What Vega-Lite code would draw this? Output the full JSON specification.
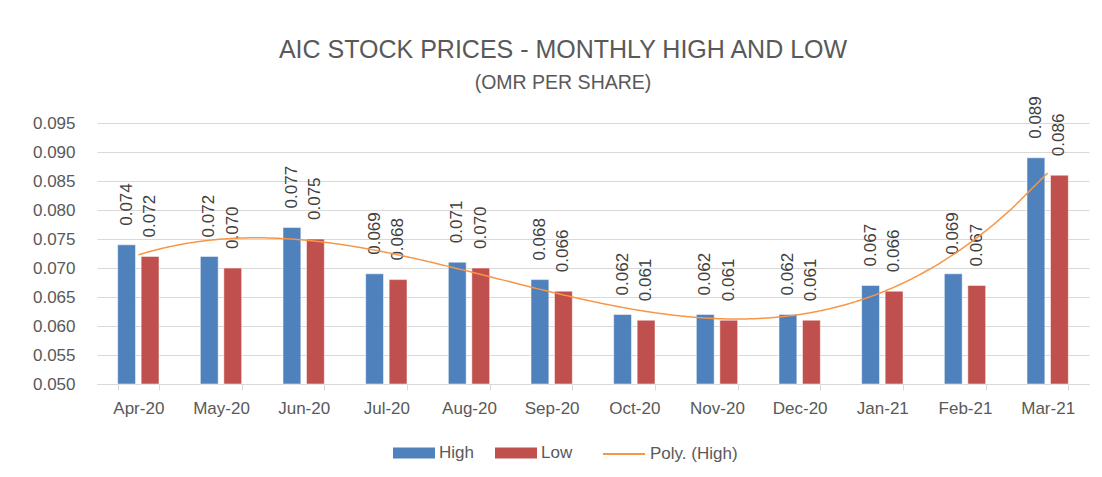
{
  "$schema": "https://vega.github.io/schema/vega-lite/v6.json",
  "autosize": "none",
  "width": 992,
  "height": 261,
  "padding": {"left": 97, "top": 123, "right": 13, "bottom": 93},
  "background": "#ffffff",
  "config": {
    "font": "Liberation Sans",
    "view": {"stroke": null},
    "axisY": {
      "title": null, "values": [0.05, 0.055, 0.06, 0.065, 0.07, 0.075, 0.08, 0.085, 0.09, 0.095],
      "format": ".3f", "labelFontSize": 17, "labelColor": "#595959", "labelPadding": 22,
      "labelOverlap": false, "labelBound": false, "labelFlush": false,
      "domain": false, "ticks": false, "gridColor": "#d9d9d9", "gridWidth": 1
    }
  },
  "title": {
    "text": "AIC STOCK PRICES - MONTHLY HIGH AND LOW",
    "subtitle": "(OMR PER SHARE)",
    "fontSize": 25,
    "fontWeight": "normal",
    "color": "#595959",
    "subtitleFontSize": 19.5,
    "subtitleColor": "#595959",
    "subtitlePadding": 11,
    "anchor": "middle",
    "dx": -30,
    "offset": 4
  },
  "data": {
    "values": [
      {"month": "Apr-20", "i": 1, "series": "High", "value": 0.074},
      {"month": "Apr-20", "i": 1, "series": "Low", "value": 0.072},
      {"month": "May-20", "i": 2, "series": "High", "value": 0.072},
      {"month": "May-20", "i": 2, "series": "Low", "value": 0.070},
      {"month": "Jun-20", "i": 3, "series": "High", "value": 0.077},
      {"month": "Jun-20", "i": 3, "series": "Low", "value": 0.075},
      {"month": "Jul-20", "i": 4, "series": "High", "value": 0.069},
      {"month": "Jul-20", "i": 4, "series": "Low", "value": 0.068},
      {"month": "Aug-20", "i": 5, "series": "High", "value": 0.071},
      {"month": "Aug-20", "i": 5, "series": "Low", "value": 0.070},
      {"month": "Sep-20", "i": 6, "series": "High", "value": 0.068},
      {"month": "Sep-20", "i": 6, "series": "Low", "value": 0.066},
      {"month": "Oct-20", "i": 7, "series": "High", "value": 0.062},
      {"month": "Oct-20", "i": 7, "series": "Low", "value": 0.061},
      {"month": "Nov-20", "i": 8, "series": "High", "value": 0.062},
      {"month": "Nov-20", "i": 8, "series": "Low", "value": 0.061},
      {"month": "Dec-20", "i": 9, "series": "High", "value": 0.062},
      {"month": "Dec-20", "i": 9, "series": "Low", "value": 0.061},
      {"month": "Jan-21", "i": 10, "series": "High", "value": 0.067},
      {"month": "Jan-21", "i": 10, "series": "Low", "value": 0.066},
      {"month": "Feb-21", "i": 11, "series": "High", "value": 0.069},
      {"month": "Feb-21", "i": 11, "series": "Low", "value": 0.067},
      {"month": "Mar-21", "i": 12, "series": "High", "value": 0.089},
      {"month": "Mar-21", "i": 12, "series": "Low", "value": 0.086}
    ]
  },
  "layer": [
    {
      "encoding": {
        "x": {
          "field": "month", "type": "nominal", "sort": null,
          "scale": {"paddingInner": 0.5, "paddingOuter": 0.25},
          "axis": {
            "title": null, "labelAngle": 0, "labelFontSize": 17, "labelColor": "#595959",
            "domainColor": "#d9d9d9", "tickColor": "#d9d9d9", "tickSize": 6, "tickBand": "extent",
            "labelPadding": 10, "grid": false
          }
        },
        "xOffset": {"field": "series", "type": "nominal", "scale": {"paddingInner": 0.24, "paddingOuter": 0}},
        "y": {
          "field": "value", "type": "quantitative",
          "scale": {"domain": [0.05, 0.095], "zero": false, "nice": false}
        }
      },
      "layer": [
        {
          "mark": {"type": "bar", "stroke": "#ffffff", "strokeOpacity": 0.5, "strokeWidth": 1},
          "encoding": {
            "y2": {"datum": 0.05},
            "color": {
              "field": "series", "type": "nominal",
              "scale": {"domain": ["High", "Low"], "range": ["#4F81BD", "#C0504D"]},
              "legend": {
                "title": null, "orient": "none", "direction": "horizontal",
                "legendX": 296, "legendY": 309,
                "labelFontSize": 17, "labelColor": "#595959", "labelOffset": 4, "columnPadding": 21,
                "symbolSize": 1764, "symbolType": "M-1,-0.26H1V0.26H-1Z", "symbolStrokeWidth": 0
              }
            }
          }
        },
        {
          "mark": {"type": "text", "angle": 270, "align": "left", "baseline": "middle", "dx": 19, "fontSize": 17, "color": "#404040"},
          "encoding": {
            "text": {"field": "value", "type": "quantitative", "format": ".3f"}
          }
        }
      ]
    },
    {
      "transform": [
        {"filter": "datum.series === 'High'"},
        {"regression": "value", "on": "i", "method": "poly", "order": 3}
      ],
      "mark": {"type": "line", "strokeWidth": 1.5, "color": "#F79646"},
      "encoding": {
        "x": {"field": "i", "type": "quantitative", "scale": {"domain": [0.5, 12.5], "nice": false, "zero": false}, "axis": null},
        "y": {"field": "value", "type": "quantitative"},
        "strokeDash": {
          "datum": "Poly. (High)",
          "scale": {"domain": ["Poly. (High)"], "range": [[1, 0]]},
          "legend": {
            "title": null, "orient": "none", "direction": "horizontal",
            "legendX": 505, "legendY": 309,
            "labelFontSize": 17, "labelColor": "#595959", "labelOffset": 4,
            "symbolSize": 1764, "symbolType": "stroke", "symbolStrokeColor": "#F79646", "symbolStrokeWidth": 2
          }
        }
      }
    }
  ],
  "resolve": {"scale": {"x": "independent"}}
}
